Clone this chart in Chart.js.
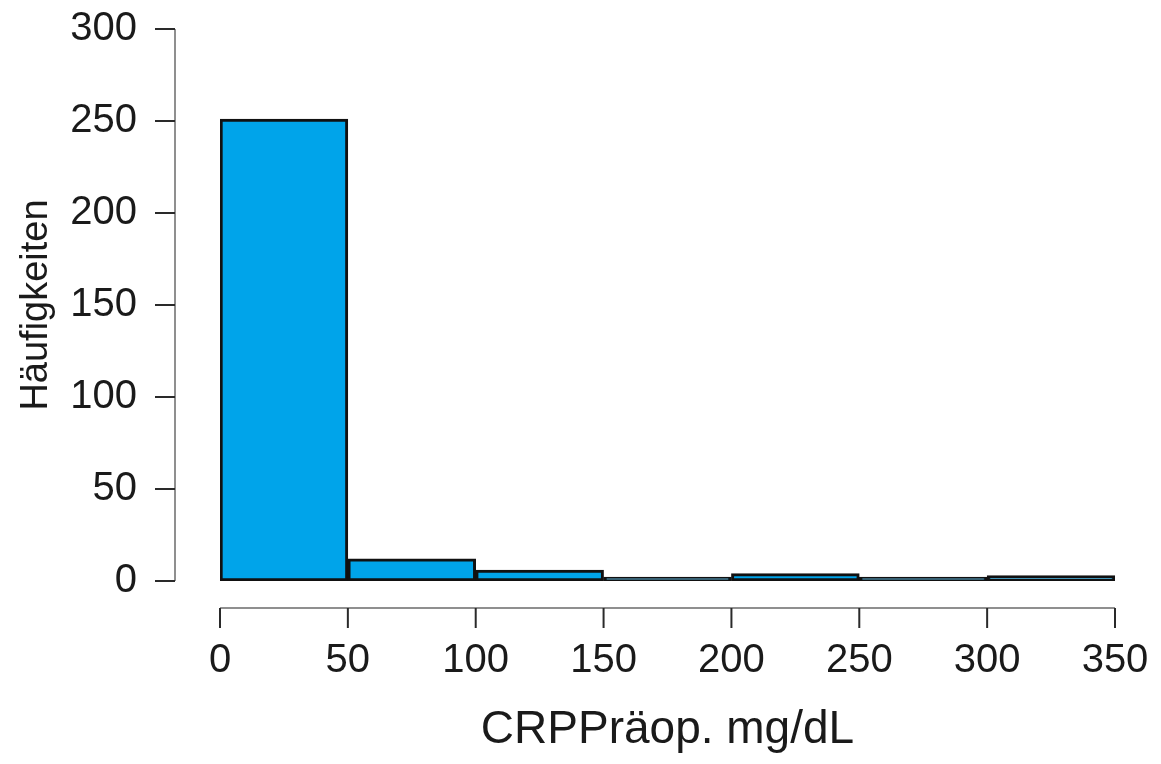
<!DOCTYPE html>
<html>
<head>
<meta charset="utf-8">
<title>CRP Histogramm</title>
<script src="https://cdn.jsdelivr.net/npm/chart.js@4/dist/chart.umd.min.js"></script>
<style>
  html, body { margin: 0; padding: 0; background: #fff; }
  #wrap { width: 1161px; height: 764px; }
</style>
</head>
<body>
<div id="wrap"><canvas id="hist"></canvas></div>
<script>
// Klassen (Mitte der Klasse) und Häufigkeiten
const binMids = [25, 75, 125, 175, 225, 275, 325];
const counts = [251, 12, 6, 1, 4, 0, 3];
const xTicks = [0, 50, 100, 150, 200, 250, 300, 350];
const yTicks = [0, 50, 100, 150, 200, 250, 300];

const fontFam = '"Liberation Sans", Arial, Helvetica, sans-serif';

// Achsenlinien etwas vom Plotbereich abgesetzt (wie bei R)
const axisPlugin = {
    id: 'detachedAxes',
    afterDraw(chart) {
        const ctx = chart.ctx;
        const xs = chart.scales.x;
        const ys = chart.scales.y;
        const area = chart.chartArea;
        const axX = area.left - 45;
        const axY = area.bottom + 27;

        ctx.save();
        // y-Achse
        ctx.strokeStyle = '#8f8f8f';
        ctx.lineWidth = 2;
        ctx.beginPath();
        ctx.moveTo(axX, ys.getPixelForValue(yTicks[0]));
        ctx.lineTo(axX, ys.getPixelForValue(yTicks[yTicks.length - 1]));
        ctx.stroke();
        ctx.strokeStyle = '#2a2a2a';
        yTicks.forEach(v => {
            const p = ys.getPixelForValue(v);
            ctx.beginPath();
            ctx.moveTo(axX - 20, p);
            ctx.lineTo(axX, p);
            ctx.stroke();
        });

        // x-Achse
        ctx.strokeStyle = '#8f8f8f';
        ctx.beginPath();
        ctx.moveTo(xs.getPixelForValue(xTicks[0]), axY);
        ctx.lineTo(xs.getPixelForValue(xTicks[xTicks.length - 1]), axY);
        ctx.stroke();
        ctx.strokeStyle = '#2a2a2a';
        xTicks.forEach(v => {
            const p = xs.getPixelForValue(v);
            ctx.beginPath();
            ctx.moveTo(p, axY);
            ctx.lineTo(p, axY + 20);
            ctx.stroke();
        });
        ctx.restore();
    }
};

new Chart(document.getElementById('hist'), {
    type: 'bar',
    data: {
        datasets: [{
            label: 'Häufigkeiten',
            data: binMids.map((m, i) => ({ x: m, y: counts[i] })),
            backgroundColor: '#00a4ea',
            borderColor: '#111',
            borderWidth: 3,
            borderSkipped: false,
            barPercentage: 1,
            categoryPercentage: 1,
            minBarLength: 4,
            grouped: false
        }]
    },
    options: {
        responsive: true,
        maintainAspectRatio: false,
        animation: false,
        layout: { padding: { top: 29, right: 46, left: 0, bottom: 0 } },
        plugins: {
            legend: { display: false },
            tooltip: { enabled: false }
        },
        scales: {
            x: {
                type: 'linear',
                offset: false,
                min: 0,
                max: 350,
                afterBuildTicks: s => { s.ticks = xTicks.map(v => ({ value: v })); },
                afterFit: s => {
                    s.height = 183;
                    s.paddingLeft = 0;
                    s.paddingRight = 0;
                },
                grid: { display: false, drawTicks: false },
                border: { display: false },
                ticks: {
                    padding: 56,
                    color: '#1a1a1a',
                    maxRotation: 0,
                    autoSkip: false,
                    font: { family: fontFam, size: 40, lineHeight: 1.2 }
                },
                title: {
                    display: true,
                    text: 'CRPPräop. mg/dL',
                    color: '#1a1a1a',
                    font: { family: fontFam, size: 46, lineHeight: 1.2 },
                    padding: { top: 0, bottom: 6 }
                }
            },
            y: {
                min: 0,
                max: 300,
                afterBuildTicks: s => { s.ticks = yTicks.map(v => ({ value: v })); },
                afterFit: s => {
                    s.width = 220;
                    s.paddingTop = 0;
                    s.paddingBottom = 0;
                },
                grid: { display: false, drawTicks: false },
                border: { display: false },
                ticks: {
                    padding: 83,
                    color: '#1a1a1a',
                    font: { family: fontFam, size: 40, lineHeight: 1.2 }
                },
                title: {
                    display: true,
                    text: 'Häufigkeiten',
                    color: '#1a1a1a',
                    font: { family: fontFam, size: 38, lineHeight: 1.2 },
                    padding: { top: 14, bottom: 0 }
                }
            }
        }
    },
    plugins: [axisPlugin]
});
</script>
</body>
</html>
